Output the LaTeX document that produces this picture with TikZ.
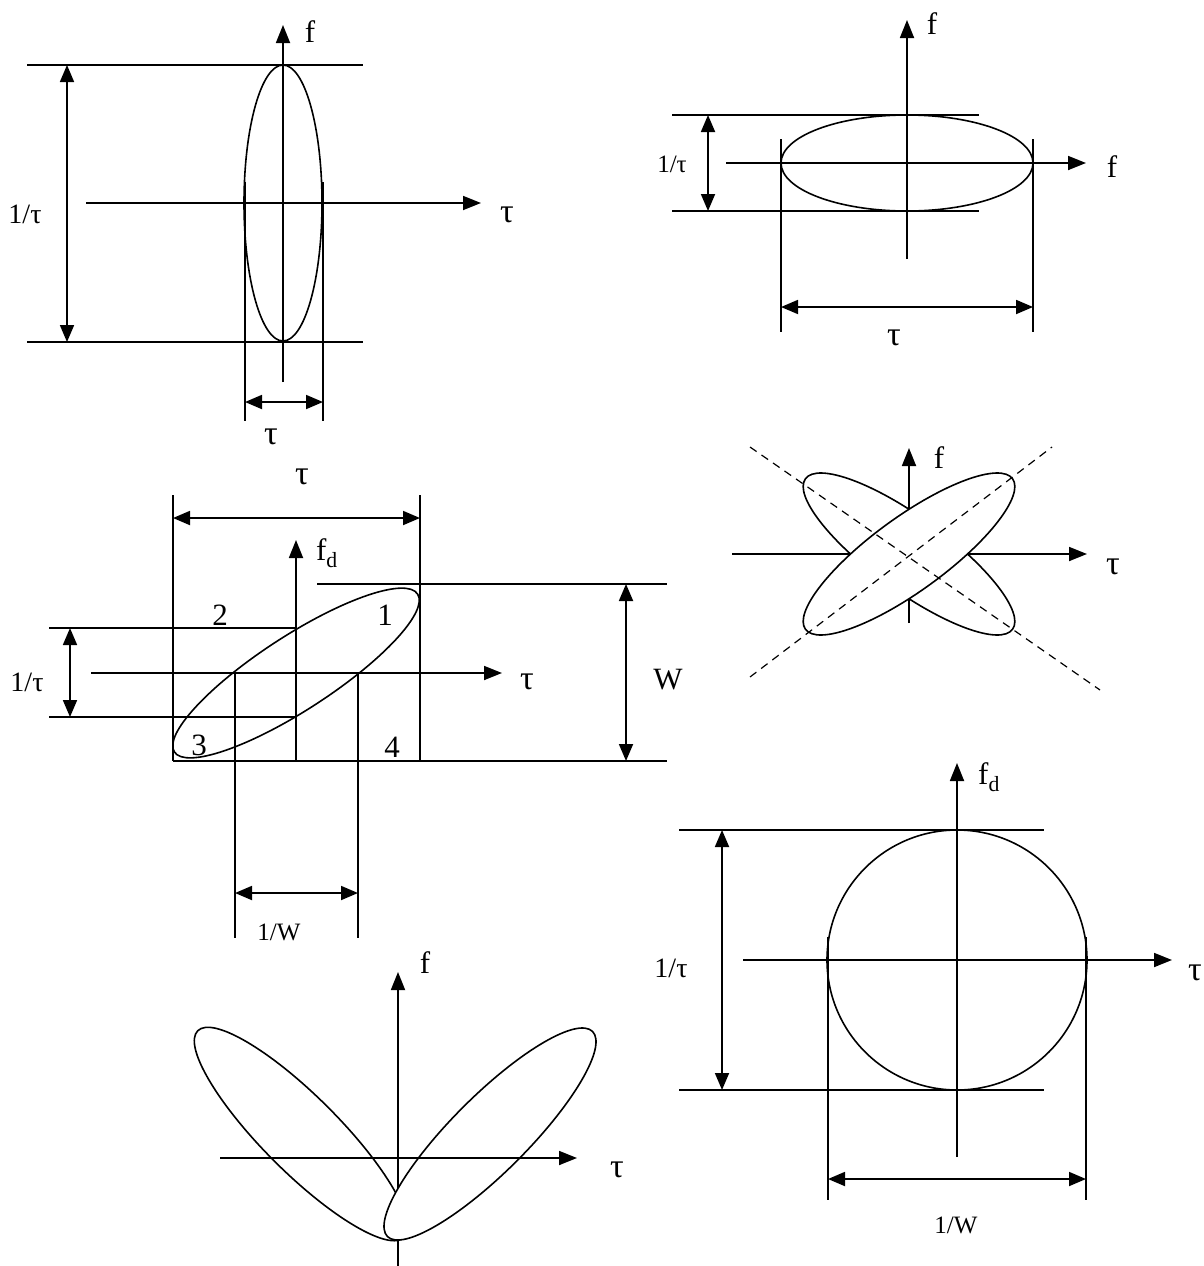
\documentclass[tikz,border=0pt]{standalone}
\usepackage{fontspec}
\setmainfont{Liberation Serif}
\usetikzlibrary{arrows.meta}
\begin{document}
\begin{tikzpicture}[x=1pt,y=-1pt,
  ln/.style={line width=1.6pt},
  axis/.style={line width=1.8pt,-{Triangle[length=18pt,width=14pt]}},
  dim/.style={line width=1.8pt,{Triangle[length=17pt,width=14pt]}-{Triangle[length=17pt,width=14pt]}},
  curve/.style={line width=1.6pt},
  lbl/.style={font=\fontsize{31}{31}\selectfont, inner sep=0pt},
  tau/.style={font=\fontsize{34}{34}\selectfont, inner sep=0pt},
  sml/.style={font=\fontsize{28}{28}\selectfont, inner sep=0pt},
  smlr/.style={font=\fontsize{25}{25}\selectfont, inner sep=0pt},
  num/.style={font=\fontsize{31}{31}\selectfont, inner sep=0pt},
  dsh/.style={line width=1.2pt, dash pattern=on 8pt off 6pt}]
\useasboundingbox (0,0) rectangle (1204,1266);

% ================= Diagram 1 (top left) =================
\coordinate (o1) at (283,203);
\coordinate (a1b) at (283,382); \coordinate (a1t) at (283,25);
\coordinate (a1l) at (86,203);  \coordinate (a1r) at (481,203);
\coordinate (h1a) at (27,65);   \coordinate (h1b) at (363,65);
\coordinate (h1c) at (27,342);  \coordinate (h1d) at (363,342);
\coordinate (d1t) at (67,65);   \coordinate (d1b) at (67,342);
\coordinate (v1a) at (245,182); \coordinate (v1b) at (245,421);
\coordinate (v1c) at (323,182); \coordinate (v1d) at (323,421);
\coordinate (d1l) at (245,402); \coordinate (d1r) at (323,402);
\draw[axis] (a1b) -- (a1t);
\draw[axis] (a1l) -- (a1r);
\draw[curve] (o1) ellipse (39pt and 138pt);
\draw[ln] (h1a) -- (h1b);
\draw[ln] (h1c) -- (h1d);
\draw[dim] (d1t) -- (d1b);
\draw[ln] (v1a) -- (v1b);
\draw[ln] (v1c) -- (v1d);
\draw[dim] (d1l) -- (d1r);
\node[lbl] (f1) at (310,32) {f};
\node[tau] (t1) at (507,215) {τ};
\node[sml] (it1) at (25,214) {1/τ};
\node[tau] (tb1) at (271,437) {τ};

% ================= Diagram 2 (top right) =================
\coordinate (o2) at (907,163);
\coordinate (a2b) at (907,259); \coordinate (a2t) at (907,20);
\coordinate (a2l) at (726,163); \coordinate (a2r) at (1086,163);
\coordinate (h2a) at (672,115); \coordinate (h2b) at (979,115);
\coordinate (h2c) at (672,211); \coordinate (h2d) at (979,211);
\coordinate (d2t) at (708,115); \coordinate (d2b) at (708,211);
\coordinate (v2a) at (781,139); \coordinate (v2b) at (781,332);
\coordinate (v2c) at (1033,139);\coordinate (v2d) at (1033,332);
\coordinate (d2l) at (781,307); \coordinate (d2r) at (1033,307);
\draw[axis] (a2b) -- (a2t);
\draw[axis] (a2l) -- (a2r);
\draw[curve] (o2) ellipse (126pt and 48pt);
\draw[ln] (h2a) -- (h2b);
\draw[ln] (h2c) -- (h2d);
\draw[dim] (d2t) -- (d2b);
\draw[ln] (v2a) -- (v2b);
\draw[ln] (v2c) -- (v2d);
\draw[dim] (d2l) -- (d2r);
\node[lbl] (f2) at (932,24) {f};
\node[lbl] (f2r) at (1112,167) {f};
\node[smlr] (it2) at (672,164) {1/τ};
\node[tau] (tb2) at (894,338) {τ};

% ================= Diagram 3 (middle left) =================
\coordinate (o3) at (296,673);
\coordinate (a3b) at (296,761); \coordinate (a3t) at (296,540);
\coordinate (a3l) at (91,673);  \coordinate (a3r) at (502,673);
\coordinate (v3a) at (173,495); \coordinate (v3b) at (173,761);
\coordinate (v3c) at (420,495); \coordinate (v3d) at (420,761);
\coordinate (d3l) at (173,518); \coordinate (d3r) at (420,518);
\coordinate (h3a) at (49,628);  \coordinate (h3b) at (296,628);
\coordinate (h3c) at (49,717);  \coordinate (h3d) at (296,717);
\coordinate (d3t) at (70,628);  \coordinate (d3b) at (70,717);
\coordinate (w3a) at (317,584); \coordinate (w3b) at (667,584);
\coordinate (w3c) at (173,761); \coordinate (w3d) at (667,761);
\coordinate (dwt) at (626,584); \coordinate (dwb) at (626,761);
\coordinate (u3a) at (235,673); \coordinate (u3b) at (235,938);
\coordinate (u3c) at (358,673); \coordinate (u3d) at (358,938);
\coordinate (dul) at (235,893); \coordinate (dur) at (358,893);
\draw[axis] (a3b) -- (a3t);
\draw[axis] (a3l) -- (a3r);
\draw[curve, rotate around={33:(o3)}] (o3) ellipse (145pt and 37pt);
\draw[ln] (v3a) -- (v3b);
\draw[ln] (v3c) -- (v3d);
\draw[dim] (d3l) -- (d3r);
\draw[ln] (h3a) -- (h3b);
\draw[ln] (h3c) -- (h3d);
\draw[dim] (d3t) -- (d3b);
\draw[ln] (w3a) -- (w3b);
\draw[ln] (w3c) -- (w3d);
\draw[dim] (dwt) -- (dwb);
\draw[ln] (u3a) -- (u3b);
\draw[ln] (u3c) -- (u3d);
\draw[dim] (dul) -- (dur);
\node[tau] (t3) at (302,477) {τ};
\node[lbl] (fd3) at (327,553) {f\textsubscript{d}};
\node[tau] (tr3) at (527,682) {τ};
\node[sml] (it3) at (27,682) {1/τ};
\node[num] (w3) at (668,680) {W};
\node[smlr] (iw3) at (279,932) {1/W};
\node[num] (n2) at (220,615) {2};
\node[num] (n1) at (385,615) {1};
\node[num] (n3) at (199,745) {3};
\node[num] (n4) at (392,747) {4};

% ================= Diagram 4 (middle right) =================
\coordinate (o4) at (909,554);
\coordinate (a4b) at (909,623); \coordinate (a4t) at (909,448);
\coordinate (a4l) at (732,554); \coordinate (a4r) at (1087,554);
\coordinate (q1a) at (750,447); \coordinate (q1b) at (1100,690);
\coordinate (q2a) at (750,677); \coordinate (q2b) at (1052,447);
\draw[axis] (a4b) -- (a4t);
\draw[axis] (a4l) -- (a4r);
\draw[curve, rotate around={-36:(o4)}] (o4) ellipse (128pt and 37pt);
\draw[curve, fill=white, rotate around={36:(o4)}] (o4) ellipse (128pt and 37pt);
\draw[dsh] (q1a) -- (q1b);
\draw[dsh] (q2a) -- (q2b);
\node[lbl] (f4) at (939,458) {f};
\node[tau] (t4) at (1113,567) {τ};

% ================= Diagram 5 (bottom left) =================
\coordinate (a5b) at (398,1266); \coordinate (a5t) at (398,972);
\coordinate (a5l) at (220,1158); \coordinate (a5r) at (577,1158);
\coordinate (e5l) at (301,1134); \coordinate (e5r) at (490,1134);
\draw[axis] (a5b) -- (a5t);
\draw[curve, rotate around={-45:(e5l)}] (e5l) ellipse (146pt and 38pt);
\draw[curve, fill=white, rotate around={45:(e5r)}] (e5r) ellipse (145pt and 38pt);
\draw[axis] (a5l) -- (a5r);
\node[lbl] (f5) at (425,963) {f};
\node[tau] (t5) at (617,1170) {τ};

% ================= Diagram 6 (bottom right) =================
\coordinate (o6) at (957,960);
\coordinate (a6b) at (957,1157); \coordinate (a6t) at (957,763);
\coordinate (a6l) at (743,960);  \coordinate (a6r) at (1172,960);
\coordinate (h6a) at (679,830);  \coordinate (h6b) at (1044,830);
\coordinate (h6c) at (679,1090); \coordinate (h6d) at (1044,1090);
\coordinate (d6t) at (722,830);  \coordinate (d6b) at (722,1090);
\coordinate (v6a) at (828,937);  \coordinate (v6b) at (828,1200);
\coordinate (v6c) at (1086,937); \coordinate (v6d) at (1086,1200);
\coordinate (d6l) at (828,1179); \coordinate (d6r) at (1086,1179);
\draw[axis] (a6b) -- (a6t);
\draw[axis] (a6l) -- (a6r);
\draw[curve] (o6) circle (130pt);
\draw[ln] (h6a) -- (h6b);
\draw[ln] (h6c) -- (h6d);
\draw[dim] (d6t) -- (d6b);
\draw[ln] (v6a) -- (v6b);
\draw[ln] (v6c) -- (v6d);
\draw[dim] (d6l) -- (d6r);
\node[lbl] (fd6) at (989,777) {f\textsubscript{d}};
\node[tau] (t6) at (1195,973) {τ};
\node[sml] (it6) at (671,968) {1/τ};
\node[smlr] (iw6) at (956,1225) {1/W};
\end{tikzpicture}
\end{document}
